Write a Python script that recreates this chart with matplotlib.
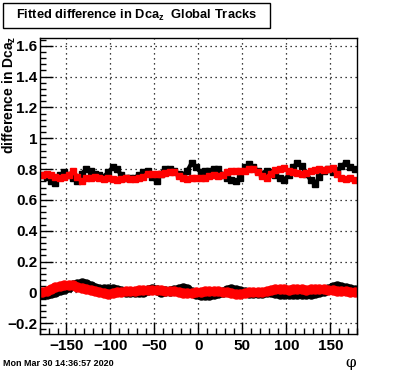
import numpy as np
import matplotlib
matplotlib.use('Agg')
import matplotlib.pyplot as plt
from matplotlib.ticker import MultipleLocator
from matplotlib.patches import Rectangle

plt.rcParams['font.family'] = ['Liberation Sans', 'DejaVu Sans']
plt.rcParams['font.weight'] = 'bold'
plt.rcParams['mathtext.default'] = 'regular'

# bin centres in phi (5 degree bins)
phi = np.arange(-177.5, 180, 5)

# upper band, black and red sets
upper_black = [0.76, 0.75, 0.72, 0.71, 0.76, 0.78, 0.76, 0.74, 0.72, 0.77,
               0.80, 0.79, 0.77, 0.76, 0.75, 0.78, 0.81, 0.80, 0.76, 0.74,
               0.74, 0.745, 0.76, 0.78, 0.79, 0.75, 0.72, 0.77, 0.80, 0.80,
               0.79, 0.77, 0.76, 0.79, 0.84, 0.81, 0.78, 0.79, 0.79, 0.80,
               0.80, 0.76, 0.745, 0.73, 0.72, 0.74, 0.81, 0.83, 0.81, 0.79,
               0.77, 0.79, 0.78, 0.76, 0.745, 0.73, 0.76, 0.81, 0.84, 0.82,
               0.77, 0.73, 0.70, 0.75, 0.79, 0.80, 0.78, 0.79, 0.82, 0.84,
               0.81, 0.80]
upper_red = [0.76, 0.77, 0.76, 0.75, 0.745, 0.75, 0.76, 0.785, 0.75, 0.72,
             0.74, 0.745, 0.75, 0.745, 0.735, 0.74, 0.735, 0.73, 0.735, 0.74,
             0.735, 0.735, 0.745, 0.75, 0.77, 0.77, 0.765, 0.77, 0.775, 0.78,
             0.78, 0.755, 0.74, 0.735, 0.74, 0.745, 0.74, 0.745, 0.755, 0.76,
             0.755, 0.76, 0.78, 0.79, 0.79, 0.79, 0.79, 0.80, 0.80, 0.78,
             0.755, 0.745, 0.77, 0.795, 0.80, 0.805, 0.79, 0.78, 0.775, 0.77,
             0.775, 0.785, 0.795, 0.80, 0.795, 0.80, 0.805, 0.77, 0.74, 0.735,
             0.74, 0.73]

# lower band, black and red sets
lower_black = [-0.012, -0.01, -0.005, 0.005, 0.015, 0.025, 0.035, 0.045, 0.055, 0.06,
               0.055, 0.04, 0.03, 0.025, 0.02, 0.02, 0.02, 0.015, 0.01, 0.005,
               0.0, 0.0, 0.002, 0.005, 0.015, 0.025, 0.015, 0.005, 0.008, 0.01,
               0.015, 0.025, 0.03, 0.02, 0.005, -0.01, -0.015, -0.02, -0.018, -0.01,
               -0.005, 0.005, 0.015, 0.02, 0.018, 0.01, 0.0, -0.005, -0.005, -0.003,
               -0.005, 0.0, 0.002, -0.002, -0.008, -0.01, -0.012, -0.01, -0.012, -0.01,
               -0.008, -0.01, -0.005, 0.0, 0.01, 0.025, 0.035, 0.04, 0.038, 0.03,
               0.02, 0.015]
lower_red = [0.0, 0.01, 0.025, 0.035, 0.04, 0.045, 0.05, 0.045, 0.035, 0.03,
             0.02, 0.015, 0.01, 0.005, -0.005, -0.008, -0.005, 0.0, 0.005, 0.008,
             0.01, 0.012, 0.015, 0.015, 0.015, 0.015, 0.018, 0.015, 0.01, 0.012,
             0.008, 0.0, -0.003, -0.005, -0.002, 0.0, 0.005, 0.012, 0.01, 0.008,
             0.01, 0.005, 0.0, -0.005, -0.01, -0.012, -0.005, 0.0, 0.002, 0.0,
             0.005, 0.012, 0.018, 0.02, 0.022, 0.02, 0.018, 0.02, 0.022, 0.02,
             0.018, 0.022, 0.025, 0.022, 0.02, 0.015, 0.015, 0.012, 0.01, 0.008,
             0.005, 0.0]

fig = plt.figure(figsize=(3.96, 3.72), dpi=100)
ax = fig.add_axes([40/396, 1-334/372, 316.7/396, 296/372])

ax.plot(phi, upper_black, color='black', marker='s', ms=5, lw=3)
ax.plot(phi, lower_black, color='black', marker='o', ms=6.5, lw=4.5)
ax.plot(phi, upper_red, color='red', marker='s', ms=5, lw=3)
ax.plot(phi, lower_red, color='red', marker='o', ms=6.5, lw=4.5)

ax.set_xlim(-180, 180)
ax.set_ylim(-0.27, 1.65)
ax.xaxis.set_minor_locator(MultipleLocator(10))
ax.yaxis.set_minor_locator(MultipleLocator(0.04))
ax.tick_params(which='both', direction='in', top=False, right=False,
               labelsize=11, width=1)
ax.tick_params(which='major', length=9)
ax.tick_params(which='minor', length=4.5)
ax.set_yticks([-0.2, 0, 0.2, 0.4, 0.6, 0.8, 1, 1.2, 1.4, 1.6])
ax.set_yticklabels(['\u22120.2', '0', '0.2', '0.4', '0.6', '0.8', '1', '1.2', '1.4', '1.6'])
ax.set_xticks([-150, -100, -50, 0, 50, 100, 150])
ax.set_xticklabels(['\u2212150', '\u2212100', '\u221250', '0', '50', '100', '150'])
ax.tick_params(axis='y', pad=2)
ax.grid(True, which='major', color='black', linestyle=(0, (1, 3)), linewidth=0.9)
for s in ax.spines.values():
    s.set_linewidth(1)

fig.text(9/396, 1-36/372, 'difference in Dca$_{z}$', rotation=90,
         ha='center', va='top', fontsize=10, fontweight='bold')
fig.text(351/396, 1-363/372, '\u03c6', ha='center', va='center', fontsize=11,
         family='DejaVu Serif', fontweight='normal')
fig.text(3/396, 1-364/372, 'Mon Mar 30 14:36:57 2020', ha='left', va='center',
         fontsize=6.5, fontweight='bold')

fig.patches.append(Rectangle((3/396, 1-28/372), 267/396, 25/372, transform=fig.transFigure,
                             facecolor='white', edgecolor='black', linewidth=1))
fig.text(137/396, 1-15/372, 'Fitted difference in Dca$_{z}$  Global Tracks',
         ha='center', va='center', fontsize=9.3, fontweight='bold')

fig.savefig('out.png', dpi=100)
